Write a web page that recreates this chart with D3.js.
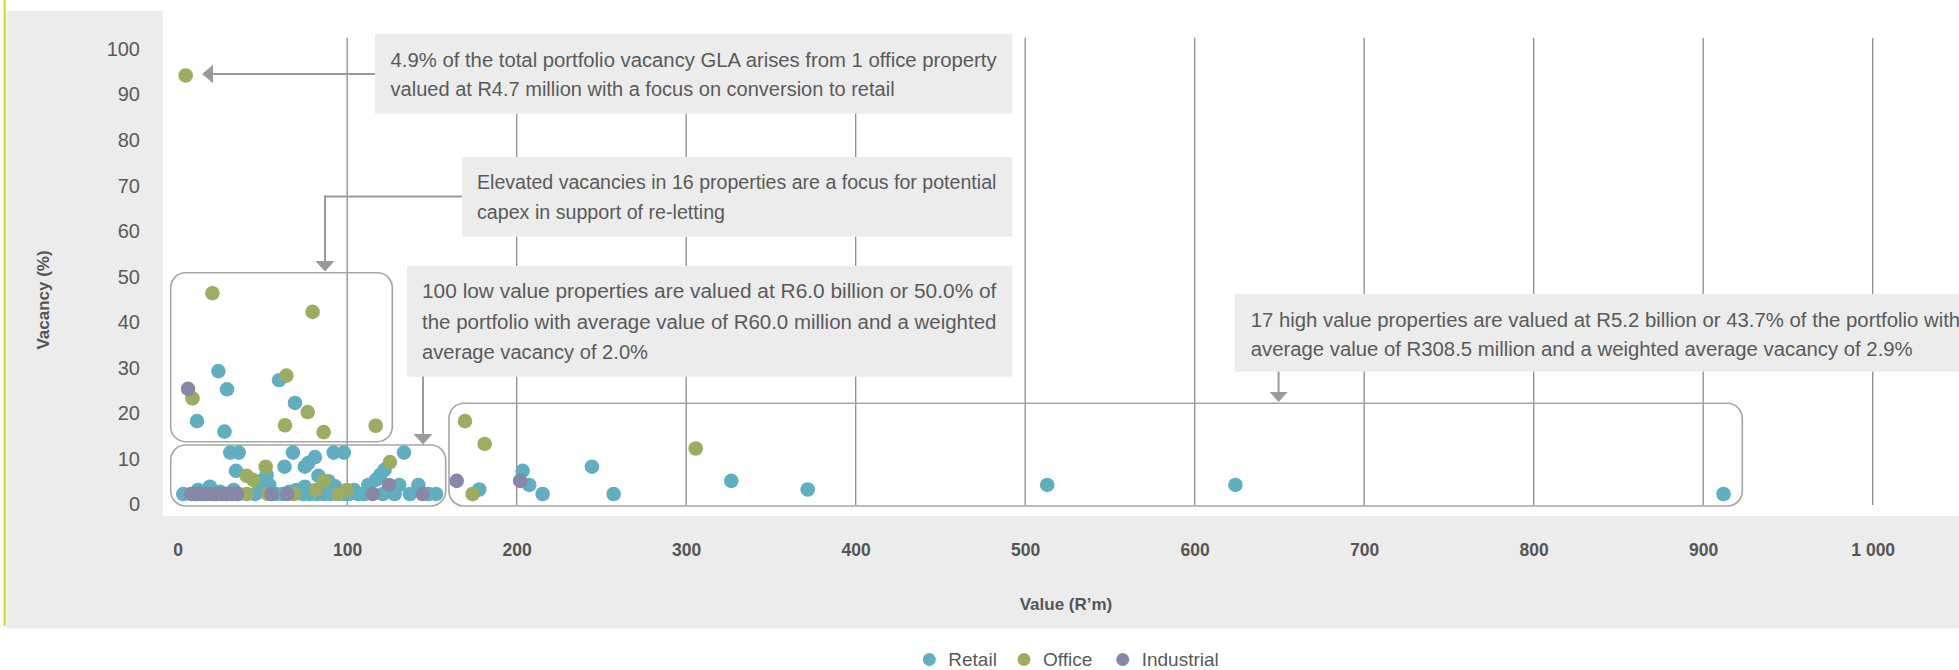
<!DOCTYPE html>
<html>
<head>
<meta charset="utf-8">
<script src="https://cdn.jsdelivr.net/npm/d3@7"></script>
<style>
  html, body { margin: 0; padding: 0; background: #ffffff; }
  svg { display: block; font-family: "Liberation Sans", Arial, sans-serif; }
</style>
</head>
<body>
<svg id="chart" width="1959" height="670"></svg>
<script>
// ---- data: [value (R'm), vacancy (%)] per property ----
const categories = ["Retail", "Office", "Industrial"];

const retail = [
  [24, 29.1], [59.8, 27.1], [29.1, 25.1], [69.2, 22.1], [11.4, 18.1], [27.6, 15.8],
  [31, 11.2], [36, 11.2], [68, 11.2], [92, 11.2], [98, 11.2], [133.5, 11.2],
  [81, 10.2], [63, 8.1], [75, 8.1], [77, 8.9], [34.4, 7.2],
  [122, 7.4], [119.5, 6.3], [117, 5.2],
  [52.5, 6.3], [83, 6.1], [88.9, 4.9], [92.8, 3.8],
  [54, 4.1], [75, 3.7], [19, 3.7], [33, 3.0], [112.4, 4.1], [130.7, 4.1], [142, 4.1], [50.5, 5.2],
  [3.3, 2.1], [45.6, 2.1], [74, 2.1], [78, 2.1], [86, 2.1], [90, 2.1], [106.5, 2.1], [137, 2.1], [152.4, 2.1],
  [10, 2.1], [16, 2.1], [22, 2.1], [28, 2.1], [36, 2.1], [58, 2.1], [62, 2.1], [82, 2.1],
  [94, 2.1], [98, 2.1], [101, 2.1], [110, 2.1], [121, 2.1], [128, 2.1], [148, 2.1],
  [12, 3.0], [25, 2.6], [48, 2.6], [66, 2.6], [70, 3.0], [104, 3.0], [113, 2.6], [126, 2.6],
  [177.9, 3.1], [203.5, 7.2], [207.4, 4.1], [215.3, 2.1], [244.4, 8.1], [257.2, 2.1],
  [326.6, 5.0], [371.7, 3.1], [513, 4.1], [624, 4.1], [912, 2.1]
];

const office = [
  [4.7, 94], [20.5, 46.2], [79.6, 42.1], [64.1, 28.1], [8.7, 23.1], [76.7, 20.1],
  [63.3, 17.2], [86.1, 15.7], [116.8, 17.1],
  [51.9, 8.1], [125.2, 9.1], [40.7, 6.1], [44.6, 5.2], [86.3, 5.0], [81.4, 3.0],
  [99.7, 3.0], [94.8, 2.1], [40.7, 2.1], [53.4, 2.1], [68.6, 2.1],
  [169.5, 18.1], [181.1, 13.1], [174, 2.1], [305.6, 12.1]
];

const industrial = [
  [6.1, 25.2],
  [8, 2.1], [11, 2.1], [14, 2.1], [17, 2.1], [20, 2.1], [23, 2.1], [26, 2.1], [29, 2.1],
  [32, 2.1], [35, 2.1], [55.4, 2.1], [64.7, 2.1], [115, 2.1], [124.7, 4.1], [144.5, 2.1],
  [164.6, 5.0], [202, 5.0]
];

const xTicks = [0, 100, 200, 300, 400, 500, 600, 700, 800, 900, 1000];
const xTickLabels = ["0", "100", "200", "300", "400", "500", "600", "700", "800", "900", "1 000"];
const yTicks = [0, 10, 20, 30, 40, 50, 60, 70, 80, 90, 100];

const noteOffice = [
  "4.9% of the total portfolio vacancy GLA arises from 1 office property",
  "valued at R4.7 million with a focus on conversion to retail"
];
const noteElevated = [
  "Elevated vacancies in 16 properties are a focus for potential",
  "capex in support of re-letting"
];
const noteLow = [
  "100 low value properties are valued at R6.0 billion or 50.0% of",
  "the portfolio with average value of R60.0 million and a weighted",
  "average vacancy of 2.0%"
];
const noteHigh = [
  "17 high value properties are valued at R5.2 billion or 43.7% of the portfolio with",
  "average value of R308.5 million and a weighted average vacancy of 2.9%"
];

// ---- styling ----
const colors = { Retail: "#60afc0", Office: "#9bad60", Industrial: "#8787a8" };
const textColor = "#5a5a5a";
const panelFill = "#ececec";
const guideColor = "#9a9a9a";

const svg = d3.select("#chart");

const x = d3.scaleLinear().domain([0, 1000]).range([177.7, 1872.7]);
const y = d3.scaleLinear().domain([0, 100]).range([503.6, 48.2]);

// page frame: grey panel, white plotting area, accent rule
svg.append("rect").attr("x", 6.7).attr("y", 10.7).attr("width", 1959 - 6.7).attr("height", 628.3 - 10.7)
  .attr("fill", panelFill);
svg.append("rect").attr("x", 162.7).attr("y", 0).attr("width", 1959 - 162.7).attr("height", 516)
  .attr("fill", "#ffffff");
svg.append("rect").attr("x", 3.6).attr("y", 0).attr("width", 2.2).attr("height", 626)
  .attr("fill", "#d8da1a");

// vertical gridlines
svg.append("g").selectAll("line").data(xTicks.filter(d => d > 0)).join("line")
  .attr("x1", d => x(d)).attr("x2", d => x(d))
  .attr("y1", y(102.3)).attr("y2", y(-0.3))
  .attr("stroke", "#8c8c8c").attr("stroke-width", 1.3);

// y axis labels
const yAxis = svg.append("g").attr("transform", "translate(140,0)")
  .call(d3.axisLeft(y).tickValues(yTicks).tickSize(0).tickPadding(0));
yAxis.select(".domain").remove();
yAxis.selectAll("text")
  .attr("x", 0).attr("dy", "7.2px")
  .attr("fill", textColor).style("font-size", "20px").style("font-family", "'Liberation Sans', Arial, sans-serif");

// x axis labels
const xAxis = svg.append("g").attr("transform", "translate(0,556)")
  .call(d3.axisBottom(x).tickValues(xTicks).tickFormat((d, i) => xTickLabels[i]).tickSize(0).tickPadding(0));
xAxis.select(".domain").remove();
xAxis.selectAll("text")
  .attr("y", 0).attr("dy", null)
  .attr("fill", "#555555").style("font-size", "17.5px").style("font-weight", "bold")
  .style("font-family", "'Liberation Sans', Arial, sans-serif");

// axis titles
svg.append("text").attr("x", 1066).attr("y", 609.5).attr("text-anchor", "middle")
  .attr("fill", "#555555").style("font-size", "17px").style("font-weight", "bold")
  .text("Value (R\u2019m)");
svg.append("text").attr("transform", "translate(48.5,300) rotate(-90)").attr("text-anchor", "middle")
  .attr("fill", "#555555").style("font-size", "17px").style("font-weight", "bold")
  .text("Vacancy (%)");

// grouping outlines
const groups = svg.append("g").attr("fill", "none").attr("stroke", "#a5a5a5").attr("stroke-width", 1.6);
[
  [170.7, 272.7, 392.3, 441.7],
  [170.7, 445.0, 445.7, 506.0],
  [449.0, 403.3, 1742.3, 506.0]
].forEach(([x0, y0, x1, y1]) => {
  groups.append("rect").attr("x", x0).attr("y", y0).attr("width", x1 - x0).attr("height", y1 - y0)
    .attr("rx", 15).attr("ry", 15);
});

// callout leaders
const leaders = svg.append("g");
leaders.append("polyline").attr("points", "375,74 211,74").attr("fill", "none")
  .attr("stroke", guideColor).attr("stroke-width", 2);
leaders.append("path").attr("d", "M202,74 L213,64.7 L213,83.3 Z").attr("fill", guideColor);

leaders.append("polyline").attr("points", "462,196.5 325,196.5 325,262").attr("fill", "none")
  .attr("stroke", guideColor).attr("stroke-width", 2);
leaders.append("path").attr("d", "M325,271.5 L315.5,261 L334.5,261 Z").attr("fill", guideColor);

leaders.append("polyline").attr("points", "423,376 423,435").attr("fill", "none")
  .attr("stroke", guideColor).attr("stroke-width", 2);
leaders.append("path").attr("d", "M423,444.5 L413.5,434 L432.5,434 Z").attr("fill", guideColor);

leaders.append("polyline").attr("points", "1278.6,371 1278.6,393").attr("fill", "none")
  .attr("stroke", guideColor).attr("stroke-width", 2);
leaders.append("path").attr("d", "M1278.6,402 L1269.6,392 L1287.6,392 Z").attr("fill", guideColor);

// callout panels with justified text lines
const callouts = [
  { lines: noteOffice, box: [375, 34, 1012.4, 113.7], tx: 390.6, base: [66.8, 96.4], widths: [606, 504] },
  { lines: noteElevated, box: [462, 157, 1012.4, 236.7], tx: 477, base: [188.6, 218.6], widths: [519.4, 248] },
  { lines: noteLow, box: [407, 266, 1012.4, 376.7], tx: 422, base: [298.4, 328.6, 358.8], widths: [574.4, 574.4, 226] },
  { lines: noteHigh, box: [1234.8, 294, 1990, 371.7], tx: 1250.7, base: [326.7, 356], widths: [null, 662] }
];
callouts.forEach(c => {
  const g = svg.append("g");
  g.append("rect").attr("x", c.box[0]).attr("y", c.box[1])
    .attr("width", c.box[2] - c.box[0]).attr("height", c.box[3] - c.box[1]).attr("fill", panelFill);
  const nodes = c.lines.map((t, i) => g.append("text")
    .attr("x", c.tx).attr("y", c.base[i]).attr("fill", textColor)
    .style("font-size", "19.5px").text(t));
  // lines without a set width follow the squeeze of the block's last line
  const last = nodes.length - 1;
  const ratio = c.widths[last] / nodes[last].node().getComputedTextLength();
  nodes.forEach((n, i) => {
    const w = c.widths[i] != null ? c.widths[i] : n.node().getComputedTextLength() * ratio;
    n.attr("textLength", w).attr("lengthAdjust", "spacingAndGlyphs");
  });
});

// scatter points, drawn series by series
const series = [
  { name: "Retail", points: retail },
  { name: "Office", points: office },
  { name: "Industrial", points: industrial }
];
const dots = svg.append("g");
series.forEach(s => {
  dots.append("g").selectAll("circle").data(s.points).join("circle")
    .attr("cx", d => x(d[0])).attr("cy", d => y(d[1])).attr("r", 7.3)
    .attr("fill", colors[s.name]);
});

// legend
const legendX = [929.3, 1024, 1122.7];
const legend = svg.append("g");
categories.forEach((name, i) => {
  legend.append("circle").attr("cx", legendX[i]).attr("cy", 659.5).attr("r", 6.5).attr("fill", colors[name]);
  legend.append("text").attr("x", legendX[i] + 19).attr("y", 665.6).attr("fill", textColor)
    .style("font-size", "19px").text(name);
});
</script>
</body>
</html>
